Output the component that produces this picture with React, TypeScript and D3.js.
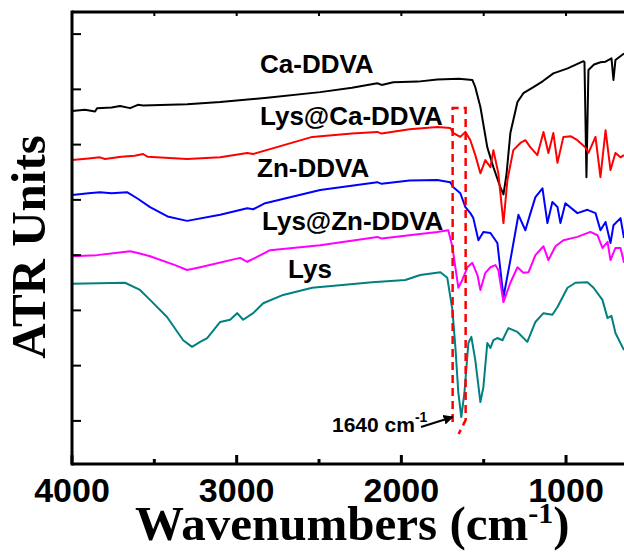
import React, { useEffect } from 'react';
import * as d3 from 'd3';

// Wavenumber (cm-1), ATR units (arbitrary, offset spectra)
const caDDVA: [number, number][] = [
  [4000, 6.61], [3921, 6.63], [3860, 6.6], [3848, 6.66], [3760, 6.67], [3708, 6.7], [3647, 6.66], [3600, 6.72], [3568, 6.71],
  [3301, 6.73], [3100, 6.77], [2815, 6.85], [2493, 6.95], [2300, 7.03], [2146, 7.11], [2120, 7.08], [2049, 7.13],
  [1900, 7.14], [1782, 7.18], [1650, 7.19], [1569, 7.17], [1551, 7.04], [1520, 6.68], [1478, 5.95], [1441, 5.59],
  [1399, 5.23], [1380, 5.1], [1362, 5.45], [1338, 6.21], [1295, 6.77], [1259, 6.93], [1198, 7.04], [1140, 7.15],
  [1077, 7.29], [990, 7.38], [894, 7.51], [888, 7.49], [876, 5.41], [864, 7.35], [830, 7.45], [791, 7.49],
  [760, 7.5], [724, 7.56], [712, 7.17], [700, 7.53], [670, 7.6], [648, 7.65],
];

const lysCaDDVA: [number, number][] = [
  [4000, 5.72], [3900, 5.75], [3830, 5.77], [3800, 5.74], [3700, 5.78], [3620, 5.8], [3568, 5.83], [3540, 5.78],
  [3301, 5.74], [3100, 5.77], [2936, 5.85], [2900, 5.83], [2541, 6.14], [2300, 6.2], [2146, 6.23], [2120, 6.2],
  [1950, 6.28], [1782, 6.32], [1703, 6.3], [1684, 6.21], [1642, 6.14], [1611, 6.23], [1581, 6.08], [1551, 5.81],
  [1520, 5.48], [1490, 5.72], [1459, 5.59], [1441, 5.9], [1411, 5.48], [1380, 4.58], [1356, 5.36], [1320, 5.9],
  [1277, 6.03], [1247, 6.08], [1216, 5.95], [1174, 5.81], [1137, 6.23], [1107, 5.85], [1077, 6.21], [1052, 5.67],
  [1016, 6.14], [970, 6.15], [931, 6.08], [882, 5.95], [864, 5.85], [821, 6.14], [791, 5.41], [760, 6.26],
  [730, 5.54], [700, 5.85], [669, 5.77], [648, 5.81],
];

const znDDVA: [number, number][] = [
  [4000, 5.09], [3900, 5.12], [3830, 5.14], [3760, 5.12], [3666, 5.14], [3600, 5.02], [3526, 4.87], [3420, 4.7],
  [3301, 4.62], [3100, 4.73], [2936, 4.85], [2900, 4.83], [2827, 4.94], [2493, 5.18], [2146, 5.32], [2120, 5.29],
  [1950, 5.35], [1782, 5.36], [1703, 5.32], [1684, 5.23], [1642, 5.12], [1611, 4.87], [1581, 4.76], [1563, 4.67],
  [1532, 4.27], [1502, 4.42], [1459, 4.4], [1417, 4.22], [1380, 3.24], [1338, 3.91], [1289, 4.73], [1247, 4.45],
  [1216, 4.76], [1186, 5.05], [1143, 5.21], [1113, 4.58], [1083, 4.96], [1052, 4.87], [1034, 4.58], [1004, 4.94],
  [931, 4.76], [870, 4.82], [821, 4.76], [791, 4.45], [760, 4.6], [730, 4.22], [712, 4.54], [669, 4.67], [648, 4.31],
];

const lysZnDDVA: [number, number][] = [
  [4000, 3.98], [3850, 4.0], [3647, 4.07], [3600, 4.04], [3526, 3.98], [3374, 3.82], [3301, 3.73], [3222, 3.78],
  [2979, 3.95], [2936, 3.88], [2888, 3.95], [2797, 4.09], [2493, 4.18], [2146, 4.33], [2120, 4.3], [1782, 4.42],
  [1715, 4.45], [1690, 4.15], [1654, 3.41], [1630, 3.55], [1599, 3.78], [1569, 3.86], [1538, 3.64], [1520, 3.37],
  [1490, 3.68], [1459, 3.78], [1429, 3.82], [1411, 3.73], [1380, 3.15], [1338, 3.5], [1295, 3.78], [1259, 3.68],
  [1228, 3.69], [1186, 4.0], [1137, 4.16], [1107, 3.91], [1064, 4.16], [1016, 4.27], [931, 4.33], [852, 4.42],
  [809, 4.36], [779, 4.13], [748, 4.24], [730, 3.91], [700, 4.13], [669, 4.13], [648, 3.86],
];

const lys: [number, number][] = [
  [4000, 3.48], [3678, 3.5], [3587, 3.37], [3526, 3.19], [3423, 2.88], [3325, 2.46], [3271, 2.34], [3222, 2.43],
  [3179, 2.5], [3100, 2.79], [3040, 2.83], [2997, 2.95], [2961, 2.83], [2900, 2.95], [2839, 3.13], [2718, 3.28],
  [2541, 3.41], [2177, 3.51], [1976, 3.55], [1885, 3.64], [1763, 3.69], [1721, 3.59], [1690, 3.01], [1672, 2.34],
  [1654, 1.51], [1636, 1.07], [1617, 1.51], [1593, 2.41], [1575, 2.52], [1551, 2.1], [1520, 1.34], [1502, 1.61],
  [1478, 2.41], [1459, 2.32], [1441, 2.46], [1417, 2.5], [1386, 2.46], [1350, 2.68], [1295, 2.61], [1235, 2.43],
  [1186, 2.79], [1137, 2.95], [1083, 2.92], [1052, 3.06], [991, 3.41], [943, 3.5], [870, 3.51], [833, 3.41],
  [779, 3.19], [748, 2.86], [724, 2.9], [700, 2.59], [648, 2.28],
];

const seriesNames = ['Ca-DDVA', 'Lys@Ca-DDVA', 'Zn-DDVA', 'Lys@Zn-DDVA', 'Lys'];
const seriesData = [caDDVA, lysCaDDVA, znDDVA, lysZnDDVA, lys];
const seriesColors = ['#000000', '#ff0000', '#0000ff', '#ff00ff', '#008080'];

const xMajorTicks = [4000, 3000, 2000, 1000];
const xMinorTicks = [3500, 2500, 1500];
const yTicks = [1, 2, 3, 4, 5, 6, 7, 8];
const xDomain: [number, number] = [4000, 648];
const yDomain: [number, number] = [0.22, 8.4];

const peakLabel = '1640 cm';
const peakWavenumber = 1640;

// label layout (px)
const labelPos: [number, number][] = [
  [260, 73], [260, 125], [257, 177], [262, 230], [288, 278],
];

export default function App() {
  useEffect(() => {
    document.body.style.margin = '0';
  }, []);

  const L = 72, R = 624, T = 12, B = 464;
  const x = d3.scaleLinear().domain(xDomain).range([L, R]);
  const y = d3.scaleLinear().domain(yDomain).range([B, T]);
  const line = d3.line<[number, number]>().x(d => x(d[0])).y(d => y(d[1]));

  const sans = '"Liberation Sans", Arial, sans-serif';
  const serif = '"Liberation Serif", "Times New Roman", serif';

  const px = x(peakWavenumber);

  return (
    <svg width={624} height={556} style={{ display: 'block', position: 'absolute', left: 0, top: 0, background: '#fff' }}>
      <defs>
        <clipPath id="plot">
          <rect x={L} y={T} width={R - L} height={B - T} />
        </clipPath>
        <marker id="arr" viewBox="0 0 10 10" refX="9" refY="5" markerWidth="5" markerHeight="5" orient="auto">
          <path d="M0,0 L10,5 L0,10 z" fill="#000" />
        </marker>
      </defs>
      <rect x={0} y={0} width={624} height={556} fill="#fff" />

      <g clipPath="url(#plot)">
        {seriesData.map((d, i) => (
          <path key={i} d={line(d) || ''} fill="none" stroke={seriesColors[i]} strokeWidth={2} strokeLinejoin="round" />
        ))}
      </g>

      {/* dashed highlight box */}
      <path
        d={`M${px - 8},422 L${px - 8},108 L${px + 5},108 L${px + 5},420 L${px - 2},434`}
        fill="none" stroke="#ff0000" strokeWidth={2.5} strokeDasharray="8,5"
      />

      {/* axes frame */}
      <line x1={L} y1={T} x2={R} y2={T} stroke="#000" strokeWidth={3} />
      <line x1={L} y1={T - 1.5} x2={L} y2={B + 1.5} stroke="#000" strokeWidth={3} />
      <line x1={L} y1={B} x2={R} y2={B} stroke="#000" strokeWidth={3} />

      {xMajorTicks.map(t => (
        <g key={'M' + t}>
          <line x1={x(t)} x2={x(t)} y1={B} y2={B - 9} stroke="#000" strokeWidth={3} />
          <line x1={x(t)} x2={x(t)} y1={T} y2={T + 4} stroke="#000" strokeWidth={2} />
          <text x={x(t)} y={502} textAnchor="middle" fontFamily={sans} fontWeight="bold" fontSize={34}>{t}</text>
        </g>
      ))}
      {xMinorTicks.map(t => (
        <g key={'m' + t}>
          <line x1={x(t)} x2={x(t)} y1={B} y2={B - 5} stroke="#000" strokeWidth={3} />
          <line x1={x(t)} x2={x(t)} y1={T} y2={T + 4} stroke="#000" strokeWidth={2} />
        </g>
      ))}
      {yTicks.map(t => (
        <line key={'y' + t} x1={L} x2={L + 9} y1={y(t)} y2={y(t)} stroke="#000" strokeWidth={2} />
      ))}

      {/* series labels */}
      {seriesNames.map((n, i) => (
        <text key={n} x={labelPos[i][0]} y={labelPos[i][1]} fontFamily={sans} fontWeight="bold" fontSize={26}>{n}</text>
      ))}

      {/* peak annotation */}
      <text x={332} y={432} fontFamily={sans} fontWeight="bold" fontSize={21}>
        {peakLabel}
        <tspan fontSize={14} dy={-10}>-1</tspan>
      </text>
      <line x1={421} y1={427} x2={px - 8} y2={417} stroke="#000" strokeWidth={2} markerEnd="url(#arr)" />

      {/* axis titles */}
      <text x={135} y={540} fontFamily={serif} fontWeight="bold" fontSize={49}>
        Wavenumbers (cm
        <tspan fontSize={30} dy={-17}>-1</tspan>
        <tspan dy={17}>)</tspan>
      </text>
      <text transform="translate(45,247) rotate(-90)" textAnchor="middle" fontFamily={serif} fontWeight="bold" fontSize={49}>
        ATR Units
      </text>
    </svg>
  );
}
